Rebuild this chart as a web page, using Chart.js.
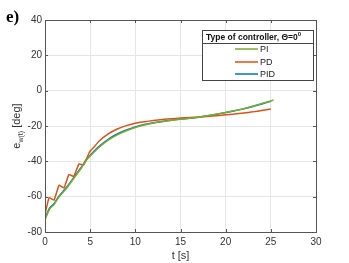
<!DOCTYPE html>
<html>
<head>
<meta charset="utf-8">
<script src="https://cdn.jsdelivr.net/npm/chart.js@4.4.1/dist/chart.umd.min.js"></script>
<style>
  html, body { margin: 0; padding: 0; background: #fff; }
  #wrap { width: 349px; height: 263px; position: relative; }
</style>
</head>
<body>
<div id="wrap"><canvas id="errChart"></canvas></div>
<script>
// values
const seriesNames = ['PI', 'PD', 'PID'];
const seriesColors = ['#77AC30', '#D95319', '#0072BD'];

const piTime = [0, 0.5, 1, 1.5, 2, 2.5, 3, 3.5, 4, 4.5, 5, 6, 7, 8, 9, 10, 11, 12, 13, 14, 15, 16, 17, 18, 19, 20, 21, 22, 23, 24, 25, 25.3];
const piValues = [-73, -67, -64.5, -60.5, -57.5, -54.5, -51, -47.5, -44, -40, -37, -32, -28, -25, -22.7, -20.8, -19.4, -18.3, -17.5, -16.8, -16.2, -15.6, -15, -14.2, -13.3, -12.3, -11.3, -10.2, -8.8, -7.3, -5.8, -5.3];

const pdTime = [0, 0.45, 1, 1.55, 2.1, 2.65, 3.2, 3.75, 4.3, 4.9, 5.4, 6, 7, 8, 9, 10, 11, 12, 13, 14, 15, 16, 17, 18, 19, 20, 21, 22, 23, 24, 25];
const pdValues = [-70, -60.5, -62, -53.5, -55, -47.5, -48.5, -41.5, -42, -35, -32, -28.5, -24.5, -21.7, -19.8, -18.5, -17.6, -16.9, -16.3, -15.9, -15.5, -15.2, -15, -14.6, -14.2, -13.7, -13.2, -12.6, -12, -11.2, -10.4];

const pidTime = [0, 0.5, 1, 1.5, 2, 2.5, 3, 3.5, 4, 4.5, 5, 6, 7, 8, 9, 10, 11, 12, 13, 14, 15, 16, 17, 18, 19, 20, 21, 22, 23, 24, 25];
const pidValues = [-72.5, -66.5, -64, -60, -57, -54, -50.5, -47, -43.5, -39.5, -36.5, -31.5, -27.5, -24.5, -22.3, -20.5, -19.2, -18.2, -17.4, -16.7, -16.1, -15.6, -15, -14.2, -13.3, -12.4, -11.4, -10.3, -9, -7.5, -6];

const xTicks = [0, 5, 10, 15, 20, 25, 30];
const yTicks = [40, 20, 0, -20, -40, -60, -80];

const timeLists = [piTime, pdTime, pidTime];
const valueLists = [piValues, pdValues, pidValues];

const datasets = seriesNames.map(function (name, i) {
  return {
    label: name,
    data: timeLists[i].map(function (t, k) { return { x: t, y: valueLists[i][k] }; }),
    borderColor: seriesColors[i],
    borderWidth: 1.5,
    pointRadius: 0,
    tension: i === 1 ? 0.1 : 0.2,
    fill: false
  };
});

const tickFont = { family: '"Liberation Sans", Arial, sans-serif', size: 10 };

// MATLAB style box with inward ticks, y label with subscript, legend and panel letter
const extrasPlugin = {
  id: 'extras',
  afterDraw: function (chart) {
    const ctx = chart.ctx;
    const area = chart.chartArea;
    const xs = chart.scales.x;
    const ys = chart.scales.y;
    ctx.save();
    ctx.strokeStyle = '#555';
    ctx.lineWidth = 1;
    ctx.strokeRect(Math.round(area.left) + 0.5, Math.round(area.top) + 0.5,
      Math.round(area.right - area.left), Math.round(area.bottom - area.top));
    ctx.beginPath();
    xTicks.forEach(function (v) {
      const px = Math.round(xs.getPixelForValue(v)) + 0.5;
      ctx.moveTo(px, area.bottom); ctx.lineTo(px, area.bottom - 3);
      ctx.moveTo(px, area.top); ctx.lineTo(px, area.top + 3);
    });
    yTicks.forEach(function (v) {
      const py = Math.round(ys.getPixelForValue(v)) + 0.5;
      ctx.moveTo(area.left, py); ctx.lineTo(area.left + 3, py);
      ctx.moveTo(area.right, py); ctx.lineTo(area.right - 3, py);
    });
    ctx.stroke();

    // y axis title: e_w(t) [deg]
    ctx.save();
    ctx.translate(16, 126);
    ctx.rotate(-Math.PI / 2);
    ctx.fillStyle = '#333';
    ctx.textBaseline = 'alphabetic';
    ctx.font = '11px "Liberation Sans", Arial, sans-serif';
    const w1 = ctx.measureText('e').width;
    ctx.font = '7px "Liberation Sans", Arial, sans-serif';
    const w2 = ctx.measureText('w(t)').width;
    ctx.font = '11px "Liberation Sans", Arial, sans-serif';
    const w3 = ctx.measureText(' [deg]').width;
    let x0 = -(w1 + w2 + w3) / 2;
    ctx.fillText('e', x0, 4);
    ctx.font = '7px "Liberation Sans", Arial, sans-serif';
    ctx.fillText('w(t)', x0 + w1, 7);
    ctx.font = '11px "Liberation Sans", Arial, sans-serif';
    ctx.fillText(' [deg]', x0 + w1 + w2, 4);
    ctx.restore();

    // legend box
    const lx = 202, ly = 30, lw = 111, lh = 50;
    ctx.fillStyle = '#fff';
    ctx.fillRect(lx, ly, lw, lh);
    ctx.strokeStyle = '#444';
    ctx.strokeRect(lx + 0.5, ly + 0.5, lw, lh);
    ctx.beginPath();
    ctx.moveTo(lx, ly + 13.5); ctx.lineTo(lx + lw, ly + 13.5);
    ctx.stroke();
    ctx.fillStyle = '#111';
    ctx.font = 'bold 8.5px "Liberation Sans", Arial, sans-serif';
    ctx.textBaseline = 'middle';
    ctx.textAlign = 'left';
    ctx.fillText('Type of controller, \u0398=0', lx + 4, ly + 7.5);
    const tw = ctx.measureText('Type of controller, \u0398=0').width;
    ctx.font = 'bold 6px "Liberation Sans", Arial, sans-serif';
    ctx.fillText('0', lx + 4 + tw, ly + 4.5);
    ctx.font = '9px "Liberation Sans", Arial, sans-serif';
    const rowY = [49, 62, 74];
    seriesNames.forEach(function (name, i) {
      ctx.strokeStyle = seriesColors[i];
      ctx.lineWidth = 1.5;
      ctx.beginPath();
      ctx.moveTo(235, rowY[i]); ctx.lineTo(258, rowY[i]);
      ctx.stroke();
      ctx.fillStyle = '#222';
      ctx.fillText(name, 260, rowY[i] + 0.5);
    });

    // panel letter
    ctx.fillStyle = '#000';
    ctx.font = 'bold 17px "Liberation Serif", "Times New Roman", serif';
    ctx.textBaseline = 'alphabetic';
    ctx.fillText('e)', 6, 22);
    ctx.restore();
  }
};

const chart = new Chart(document.getElementById('errChart').getContext('2d'), {
  type: 'line',
  data: { datasets: datasets },
  options: {
    responsive: true,
    maintainAspectRatio: false,
    animation: false,
    layout: { padding: { top: 20, right: 33, left: 0, bottom: 0 } },
    plugins: { legend: { display: false }, tooltip: { enabled: false } },
    scales: {
      x: {
        type: 'linear',
        min: 0,
        max: 30,
        afterBuildTicks: function (axis) { axis.ticks = xTicks.map(function (v) { return { value: v }; }); },
        afterFit: function (axis) { axis.height = 31; },
        grid: { color: '#e6e6e6', drawTicks: false },
        border: { display: false },
        ticks: { font: tickFont, color: '#333', padding: 4, maxRotation: 0 },
        title: { display: true, text: 't [s]', font: { family: tickFont.family, size: 11 }, color: '#333', padding: { top: 0, bottom: 0 } }
      },
      y: {
        min: -80,
        max: 40,
        afterBuildTicks: function (axis) { axis.ticks = yTicks.map(function (v) { return { value: v }; }); },
        afterFit: function (axis) { axis.width = 45; },
        grid: { color: '#e6e6e6', drawTicks: false },
        border: { display: false },
        ticks: { font: tickFont, color: '#333', padding: 3 }
      }
    }
  },
  plugins: [extrasPlugin]
});
</script>
</body>
</html>
